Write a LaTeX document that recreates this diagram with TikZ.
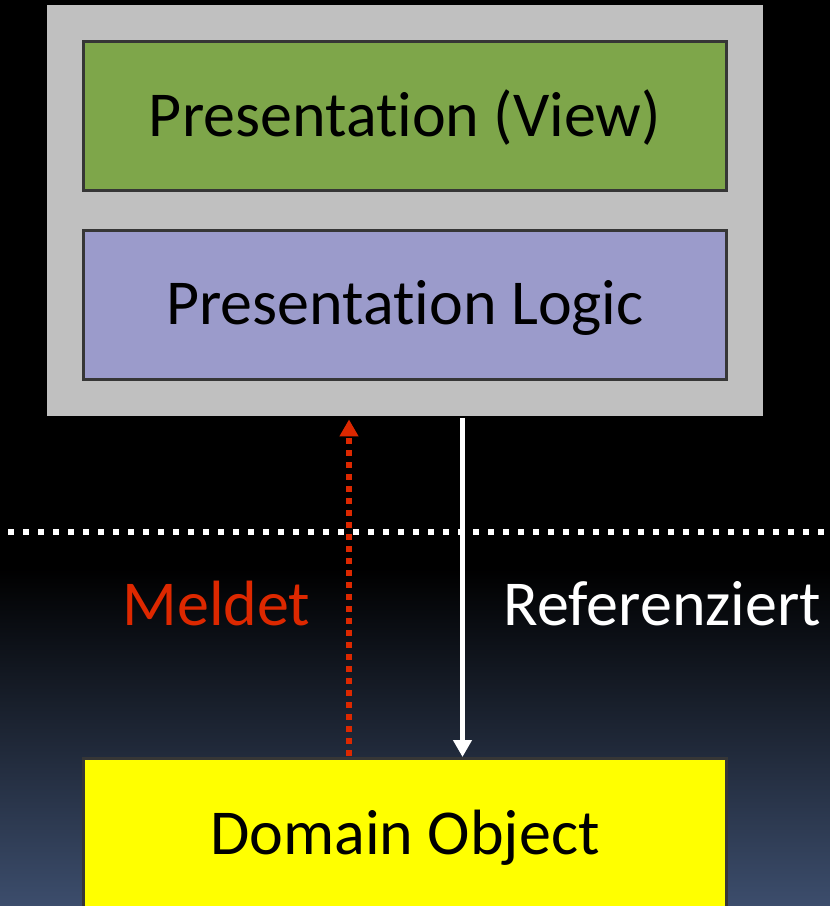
\documentclass[tikz,border=0pt]{standalone}
\usepackage{fontspec}
\setmainfont{Carlito}[RawFeature={-liga;-clig;-calt;-dlig;-rlig}]
\usetikzlibrary{arrows.meta}
\definecolor{bgbot}{RGB}{60,77,108}
\definecolor{grayfill}{RGB}{192,192,192}
\definecolor{greenfill}{RGB}{126,166,74}
\definecolor{bluefill}{RGB}{155,155,203}
\definecolor{boxline}{RGB}{54,54,54}
\definecolor{redline}{RGB}{221,40,0}
\definecolor{domyellow}{RGB}{255,255,0}
\begin{document}
\begin{tikzpicture}[x=1pt,y=1pt,
  layerbox/.style={draw=boxline, line width=3pt, inner sep=0pt, minimum width=643pt, minimum height=149pt, font=\fontsize{64}{70}\selectfont, text=black},
  bigtext/.style={font=\fontsize{64}{70}\selectfont, inner sep=0pt},
  tipstyle/.style={-{Triangle[width=18pt,length=17pt]}}]
\useasboundingbox (0,0) rectangle (830,-906);
\fill[black] (0,0) rectangle (830,-906);
\shade[top color=black, bottom color=bgbot] (0,-568) rectangle (830,-906);

\node[fill=grayfill, inner sep=0pt, minimum width=716pt, minimum height=411pt, anchor=north west] (outer) at (47,-5) {};
\node[layerbox, fill=greenfill, text depth=6pt] (view) at (405,-116) {Presentation (View)};
\node[layerbox, fill=bluefill, text depth=6pt] (logic) at (405,-305) {Presentation Logic};
\node[layerbox, fill=domyellow, minimum height=159pt] (domain) at (405,-838) {Domain Object};

\coordinate (sepL) at (8,-531.5);
\coordinate (sepR) at (830,-531.5);
\draw[white, line width=6pt, dash pattern=on 6pt off 9pt] (sepL) -- (sepR);

\coordinate (xw) at (462.5,0);
\coordinate (xr) at (349,0);
\draw[white, line width=5pt, tipstyle] ([yshift=-2pt]outer.south -| xw) -- (domain.north -| xw);
\draw[redline, line width=6pt, dash pattern=on 6pt off 6pt, tipstyle] ([yshift=1.5pt]domain.north -| xr) -- ([yshift=-3pt]outer.south -| xr);

\node[bigtext, text=redline, anchor=base] (meldet) at (216.5,-625) {Meldet};
\node[bigtext, text=white, anchor=base] (ref) at (662.5,-625) {Referenziert};
\end{tikzpicture}
\end{document}
